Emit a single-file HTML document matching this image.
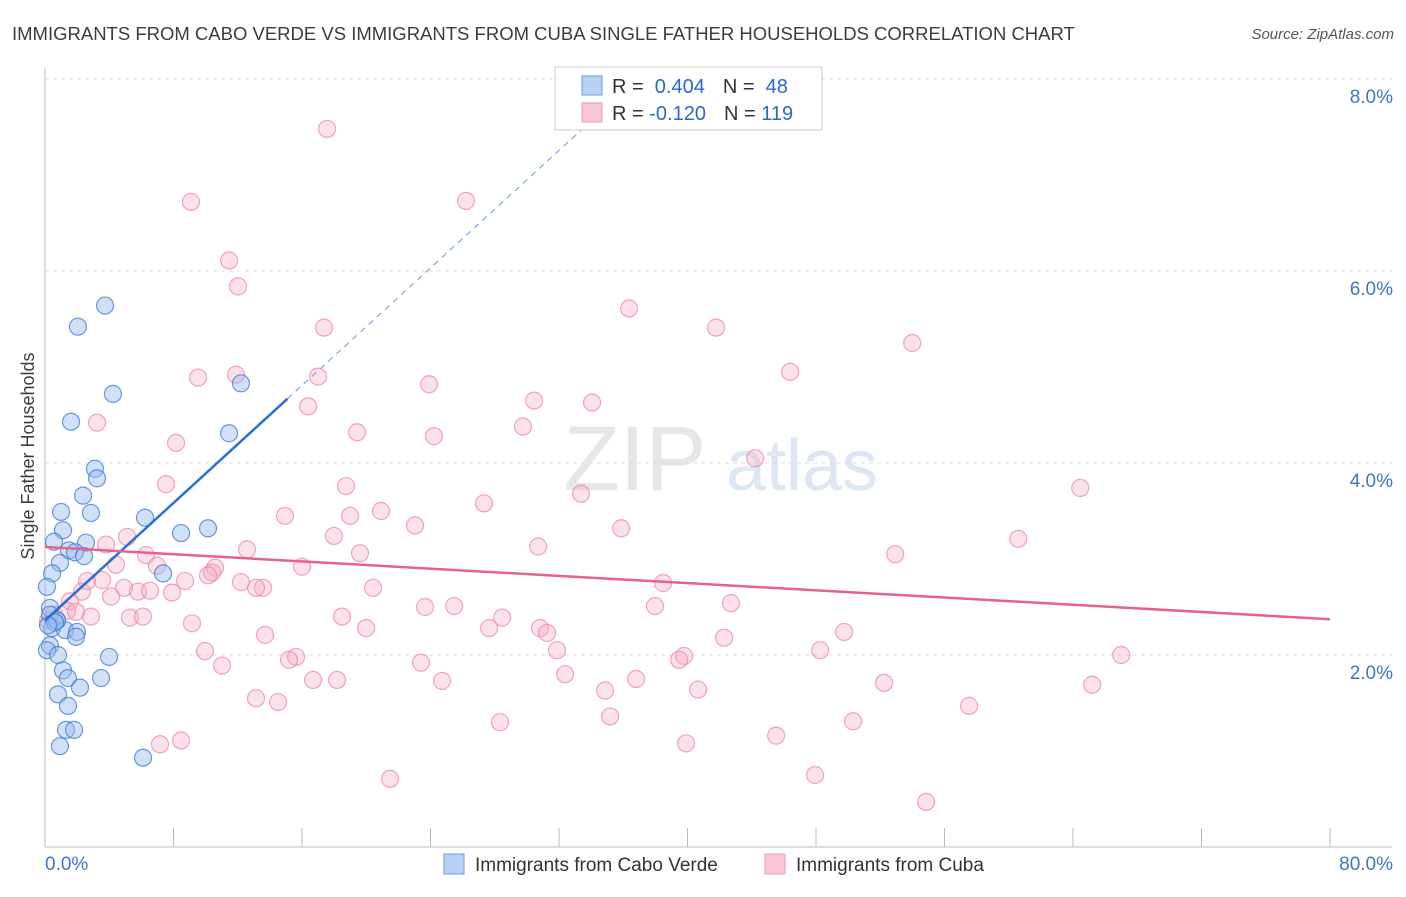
<!DOCTYPE html>
<html><head><meta charset="utf-8"><style>
body{margin:0;background:#fff;font-family:"Liberation Sans",sans-serif;}
svg text{font-family:"Liberation Sans",sans-serif;}
</style></head><body>
<svg id="chart" width="1406" height="892" viewBox="0 0 1406 892" xmlns="http://www.w3.org/2000/svg">
<text x="12" y="40" font-size="18.5" fill="#3c3c3c">IMMIGRANTS FROM CABO VERDE VS IMMIGRANTS FROM CUBA SINGLE FATHER HOUSEHOLDS CORRELATION CHART</text>
<text x="1394" y="39" font-size="15" fill="#555" font-style="italic" text-anchor="end">Source: ZipAtlas.com</text>
<g>
<text x="635" y="490" font-size="92" fill="#e6e6e6" font-family="Liberation Serif" text-anchor="middle">ZIP</text>
<text x="802" y="490" font-size="72" fill="#dde6f4" text-anchor="middle">atlas</text>
</g>
<g id="grid"></g><g id="axes"></g><g id="pts"></g><g id="trend"></g>
<text transform="translate(34,456) rotate(-90)" font-size="18" fill="#3c3c3c" text-anchor="middle">Single Father Households</text>
<g>
<rect x="555" y="67" width="267" height="63" fill="#fff" stroke="#ccc"/>
<rect x="582" y="76" width="20" height="19" fill="#b8d1f3" stroke="#6b9be0"/>
<rect x="582" y="103" width="20" height="19" fill="#f9c6d5" stroke="#ee98b2"/>
<text x="612" y="93" font-size="20" fill="#333">R = <tspan fill="#2a68d0">&#160;0.404</tspan><tspan dx="18">N = </tspan><tspan fill="#2a68d0">&#160;48</tspan></text>
<text x="612" y="120" font-size="20" fill="#333">R = <tspan fill="#2a68d0">-0.120</tspan><tspan dx="18">N = </tspan><tspan fill="#2a68d0">119</tspan></text>
</g>
<g>
<rect x="444" y="854" width="20" height="20" fill="#b8d1f3" stroke="#6b9be0"/>
<text x="475" y="871" font-size="19" fill="#333">Immigrants from Cabo Verde</text>
<rect x="765" y="854" width="20" height="20" fill="#f9c6d5" stroke="#ee98b2"/>
<text x="796" y="871" font-size="19" fill="#333">Immigrants from Cuba</text>
</g>
</svg>
<script>
const blueX=[3.74,2.05,4.23,12.2,1.62,11.46,3.11,3.24,2.37,1.0,2.86,6.23,1.12,8.47,10.15,0.56,2.55,1.49,1.87,2.43,0.93,7.35,0.44,0.12,0.31,0.31,0.75,0.44,1.25,1.99,1.93,3.99,0.31,0.12,0.81,1.12,1.43,3.49,2.18,0.81,1.43,1.31,1.81,0.93,6.1,0.75,0.62,0.19];
const blueY=[5.64,5.42,4.72,4.83,4.43,4.31,3.94,3.84,3.66,3.49,3.48,3.43,3.30,3.27,3.32,3.18,3.17,3.09,3.07,3.03,2.96,2.85,2.85,2.71,2.49,2.42,2.36,2.28,2.26,2.24,2.19,1.98,2.10,2.05,2.0,1.84,1.76,1.76,1.66,1.59,1.47,1.22,1.22,1.05,0.93,2.36,2.34,2.31];
const pinkX=[17.56,9.09,26.21,11.46,12.02,36.36,17.37,41.78,53.99,9.53,11.89,17.0,23.91,46.39,30.45,34.06,16.38,3.24,19.43,29.76,24.22,8.16,44.21,7.53,18.74,33.37,64.45,27.33,14.94,18.99,20.92,23.04,35.87,17.99,5.11,60.59,3.80,30.70,12.58,19.61,6.29,52.93,4.42,6.97,16.0,10.59,10.4,10.15,3.55,2.62,8.72,12.2,38.48,4.92,13.57,13.14,20.42,2.30,7.91,5.79,6.54,4.11,1.56,37.98,42.71,23.66,25.47,1.37,1.93,2.86,5.29,6.10,18.49,28.46,0.56,0.19,9.15,19.99,30.82,27.65,49.75,31.26,13.70,42.28,31.88,67.0,48.26,9.96,39.79,39.48,15.63,15.19,23.41,11.02,32.38,36.80,24.72,16.69,18.18,52.24,65.19,34.87,40.66,13.14,14.51,57.53,35.18,50.31,28.33,45.52,8.47,7.16,39.91,47.94,21.48,54.86];
const pinkY=[7.48,6.72,6.73,6.11,5.84,5.61,5.41,5.41,5.25,4.89,4.92,4.90,4.82,4.95,4.65,4.63,4.59,4.42,4.32,4.38,4.28,4.21,4.05,3.78,3.76,3.68,3.74,3.58,3.45,3.45,3.50,3.35,3.32,3.24,3.23,3.21,3.15,3.13,3.10,3.06,3.04,3.05,2.94,2.93,2.92,2.91,2.86,2.83,2.78,2.77,2.77,2.76,2.75,2.70,2.70,2.70,2.70,2.66,2.65,2.66,2.67,2.61,2.56,2.51,2.54,2.50,2.51,2.46,2.45,2.40,2.39,2.40,2.40,2.39,2.42,2.36,2.33,2.28,2.28,2.28,2.24,2.23,2.21,2.18,2.05,2.0,2.05,2.04,1.99,1.95,1.98,1.95,1.92,1.89,1.80,1.75,1.73,1.74,1.74,1.71,1.69,1.63,1.64,1.55,1.51,1.47,1.36,1.31,1.30,1.16,1.11,1.07,1.08,0.75,0.71,0.47];
const yTicks=[2,4,6,8];
const yTickLabels=["2.0%","4.0%","6.0%","8.0%"];
const xTicks=[0,8,16,24,32,40,48,56,64,72,80];
const blueTrend=[2.36,0.153];   // intercept, slope
const pinkTrend=[3.125,-0.0094];
const NS="http://www.w3.org/2000/svg";
const X0=45,X1=1330,Y0=847;
const sx=v=>X0+v*(X1-X0)/80, sy=v=>Y0-v*96;
function mk(tag,attrs,parent){const e=document.createElementNS(NS,tag);for(const k in attrs)e.setAttribute(k,attrs[k]);document.getElementById(parent).appendChild(e);return e;}
yTicks.forEach((t,i)=>{
 const l=mk('line',{x1:X0,x2:1392,y1:sy(t),y2:sy(t),stroke:'#ddd','stroke-dasharray':'4,4'},'grid');
 
 
 const tx=mk('text',{x:1393,y:sy(t)+24,'font-size':19,fill:'#3f74cc','text-anchor':'end'},'axes');
 tx.textContent=yTickLabels[i];
 
 
});
const ax=mk('line',{x1:X0,x2:X0,y1:68,y2:Y0,stroke:'#bbb'},'axes');


const bx=mk('line',{x1:X0,x2:1392,y1:Y0,y2:Y0,stroke:'#bbb'},'axes');


xTicks.forEach(t=>{
 const l=mk('line',{x1:sx(t),x2:sx(t),y1:828,y2:Y0,stroke:'#bbb'},'axes');
 
 
});
const xl0=mk('text',{x:45,y:870,'font-size':19,fill:'#3f74cc'},'axes');xl0.textContent='0.0%';


const xl1=mk('text',{x:1393,y:870,'font-size':19,fill:'#3f74cc','text-anchor':'end'},'axes');xl1.textContent='80.0%';


pinkX.forEach((x,i)=>{
 const c=mk('circle',{cx:sx(x),cy:sy(pinkY[i]),r:8.5,fill:'rgba(246,170,194,0.35)',stroke:'rgba(232,130,162,0.7)','stroke-width':1.2},'pts');
 
 
});
blueX.forEach((x,i)=>{
 const c=mk('circle',{cx:sx(x),cy:sy(blueY[i]),r:8.5,fill:'rgba(150,188,238,0.45)',stroke:'rgba(60,120,210,0.75)','stroke-width':1.2},'pts');
 
 
});
const bxEnd=15.1, bxDash=33.9;
const b1=mk('line',{x1:sx(0),y1:sy(blueTrend[0]),x2:sx(bxEnd),y2:sy(blueTrend[0]+blueTrend[1]*bxEnd),stroke:'#2a6fd6','stroke-width':2.5},'trend');


const b2=mk('line',{x1:sx(bxEnd),y1:sy(blueTrend[0]+blueTrend[1]*bxEnd),x2:sx(bxDash),y2:sy(blueTrend[0]+blueTrend[1]*bxDash),stroke:'#7ea6e2','stroke-width':1.2,'stroke-dasharray':'6,5'},'trend');


const p1=mk('line',{x1:sx(0),y1:sy(pinkTrend[0]),x2:sx(80),y2:sy(pinkTrend[0]+pinkTrend[1]*80),stroke:'#e8608d','stroke-width':2.5},'trend');


</script>
</body></html>
